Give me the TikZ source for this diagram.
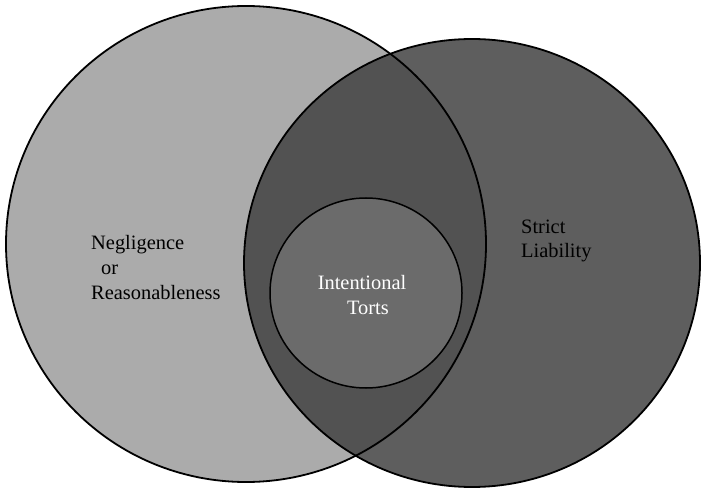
\documentclass[tikz,border=0pt]{standalone}
\usepackage{fontspec}
\setmainfont{Liberation Serif}

\begin{document}
\begin{tikzpicture}[x=1bp,y=-1bp,
        rim/.style={line width=1.8bp, black},
        lbl/.style={inner sep=0pt, font=\fontsize{20.5}{25}\selectfont}]
        \useasboundingbox (0,0) rectangle (701,488);
        %\draw[step=50,gray,very thin] (0,0) grid (701,488);

        % Centres of the three sets
        \coordinate (negc) at (246,244);
        \coordinate (strc) at (472,263);
        \coordinate (intc) at (366,293);

        % Filled sets
        \fill[black!33]  (negc) ellipse (240 and 238);
        \fill[black!63]  (strc) ellipse (228 and 224);
        \begin{scope}
          \clip (negc) ellipse (240 and 238);
          \fill[black!68] (strc) ellipse (228 and 224);
        \end{scope}
        \fill[black!58]  (intc) ellipse (96 and 95);

        % Outlines
        \draw[rim] (negc) ellipse (240 and 238);
        \draw[rim] (strc) ellipse (228 and 224);
        \draw[rim, line width=1.5bp] (intc) ellipse (96 and 95);

        % Labels (base = baseline of the last line)
        \node[lbl, anchor=base west, align=left] (neg) at (91,299)
             {Negligence\\\hspace*{10bp}or\\Reasonableness};
        \node[lbl, anchor=base west, align=left] (str) at (521,258)
             {Strict\\Liability};
        \node[lbl, anchor=base, align=center, white] (int) at (362,314)
             {Intentional\\\hspace*{12bp}Torts};
\end{tikzpicture}
\end{document}
